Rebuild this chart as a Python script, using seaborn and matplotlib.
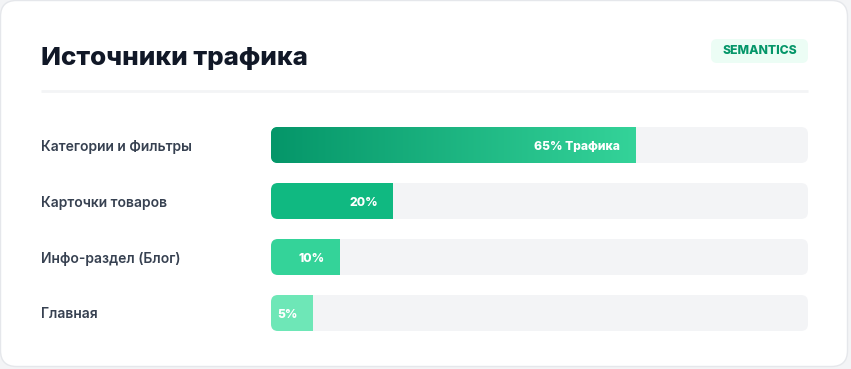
"""Traffic sources card: horizontal progress bars."""

import numpy as np
import pandas as pd
import matplotlib
matplotlib.use('Agg')
import matplotlib.pyplot as plt
import seaborn as sns
from matplotlib.patches import FancyBboxPatch
from matplotlib.colors import LinearSegmentedColormap
from matplotlib.transforms import blended_transform_factory

# Data
title = 'Источники трафика'
badge = 'SEMANTICS'
sources = ['Категории и Фильтры', 'Карточки товаров', 'Инфо-раздел (Блог)', 'Главная']
shares = [65, 20, 10, 5]
bar_texts = ['65% Трафика', '20%', '10%', '5%']
bar_colors = ['#10b981', '#10b981', '#34d399', '#6ee7b7']

W, H = 851, 369
PAD = 2.8  # visual lead-in of each bar, in % units

sns.set_theme(style='white')
plt.rcParams['font.family'] = ['Inter', 'DejaVu Sans']

fig = plt.figure(figsize=(W / 100, H / 100), dpi=100)
fig.patch.set_facecolor('#f3f4f6')

# background axes in pixel coordinates for card, title, badge
bg = fig.add_axes([0, 0, 1, 1], zorder=0)
bg.set_xlim(0, W)
bg.set_ylim(H, 0)
bg.axis('off')
card = FancyBboxPatch((0.5, 0.5), 847, 366, boxstyle='round,pad=0,rounding_size=16',
                      facecolor='white', edgecolor='#e5e7eb', linewidth=1)
bg.add_patch(card)
bg.text(41, 58, title, fontsize=18.7, fontweight='heavy', color='#111827',
        ha='left', va='center')
bg.plot([41, 808], [90.5, 90.5], color='#f3f4f6', linewidth=2, solid_capstyle='butt')
bg.add_patch(FancyBboxPatch((711, 39), 97, 24, boxstyle='round,pad=0,rounding_size=6',
                            facecolor='#ecfdf5', edgecolor='none'))
bg.text(759.5, 51.5, badge, fontsize=8.8, fontweight='heavy', color='#059669',
        ha='center', va='center')

# bar axes
x0, x1, y0, y1 = 271, 808, 127, 331
ax = fig.add_axes([x0 / W, 1 - y1 / H, (x1 - x0) / W, (y1 - y0) / H], zorder=1)
ax.patch.set_alpha(0)

df = pd.DataFrame({'source': sources, 'share': shares})
sns.barplot(data=df, x='share', y='source', hue='source', palette=bar_colors,
            width=36 / 56, legend=False, ax=ax, saturation=1, linewidth=0)
ax.axis('off')

ux = 100 / (x1 - x0)   # data units per pixel in x
uy = 1 / 56            # data units per pixel in y
r = 7 * ux

for i, p in enumerate(ax.patches[:len(sources)]):
    yb, hb = p.get_y(), p.get_height()
    track = FancyBboxPatch((-PAD, yb), 100, hb,
                           boxstyle='round,pad=0,rounding_size=%f' % r,
                           mutation_aspect=uy / ux,
                           facecolor='#f3f4f6', edgecolor='none', zorder=0.5)
    ax.add_patch(track)
    p.set_x(-PAD)
    p.set_width(p.get_width() + PAD)
    p.set_clip_path(track)
    p.set_zorder(1)
    if i == 0:
        # gradient fill of the leading bar
        cmap = LinearSegmentedColormap.from_list('g', ['#059669', '#34d399'])
        grad = np.linspace(0, 1, 256).reshape(1, -1)
        im = ax.imshow(grad, cmap=cmap, aspect='auto', zorder=1.5,
                       extent=(-PAD, shares[i], yb + hb, yb), interpolation='bilinear')
        im.set_clip_path(track)
    ax.annotate(bar_texts[i], xy=(shares[i], yb + hb / 2), xytext=(-15, 0),
                textcoords='offset pixels', ha='right', va='center_baseline',
                fontsize=8.7, fontweight='heavy', color='white', zorder=3)

ax.set_xlim(-PAD, 100 - PAD)
ax.set_ylim(3 + 18 / 56, -18 / 56)

# row labels
tr = blended_transform_factory(fig.transFigure, ax.transData)
for i, s in enumerate(sources):
    fig.text(41 / W, i, s, transform=tr, fontsize=10.0, fontweight='semibold',
             color='#374151', ha='left', va='center_baseline', zorder=2)

fig.savefig('out.png', dpi=100, facecolor=fig.get_facecolor())
